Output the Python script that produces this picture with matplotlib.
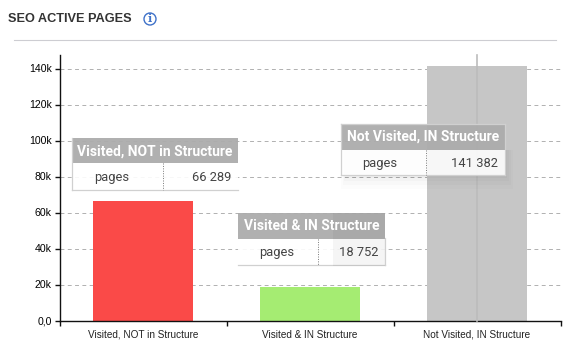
import matplotlib.pyplot as plt
from matplotlib.patches import Rectangle, Circle
from matplotlib.lines import Line2D
from matplotlib.transforms import IdentityTransform

categories = ['Visited, NOT in Structure', 'Visited & IN Structure', 'Not Visited, IN Structure']
pages = [66289, 18752, 141382]
value_labels = ['66 289', '18 752', '141 382']
colors = ['#fa4a48', '#a5ec72', '#c6c6c6']
yticks = [0, 20000, 40000, 60000, 80000, 100000, 120000, 140000]
yticklabels = ['0,0', '20k', '40k', '60k', '80k', '100k', '120k', '140k']

W, H = 568, 357
plt.rcParams['font.family'] = ['Roboto', 'DejaVu Sans']

fig = plt.figure(figsize=(W / 100, H / 100), dpi=100)

# axes box in pixels: left, right, top, bottom
L, R, T, B = 59.5, 560.5, 55, 320.5
ax = fig.add_axes([L / W, 1 - B / H, (R - L) / W, (B - T) / H])

ax.bar(range(3), pages, width=0.6, color=colors, zorder=2)
ax.set_xlim(-0.5, 2.5)
ax.set_ylim(0, (B - T) / 36 * 20000)
ax.set_yticks(yticks)
ax.set_yticklabels(yticklabels, fontsize=7.6, family=['Liberation Sans'])
ax.set_xticks([-0.5, 0.5, 1.5, 2.5])
ax.set_xticklabels([])
ax.set_xticks(range(3), minor=True)
ax.set_xticklabels(categories, minor=True, fontsize=7.2, family=['Liberation Sans'], color='#222222')
ax.tick_params(axis='x', which='minor', length=0, pad=6.5)
ax.tick_params(axis='x', which='major', length=3.6, width=1, color='#111111')
ax.tick_params(axis='y', length=3.6, width=1, color='#111111', pad=2)
ax.grid(axis='y', color='#b0b0b0', linestyle=(0, (4, 3.5)), linewidth=0.7, zorder=1)
ax.set_axisbelow(True)
for s in ['top', 'right']:
    ax.spines[s].set_visible(False)
for s in ['left', 'bottom']:
    ax.spines[s].set_linewidth(1)
    ax.spines[s].set_color('#111111')

# thin line through the grey bar
ax.axvline(2, color='#bcbcbc', linewidth=1.2, zorder=3, clip_on=False)


def fx(px):
    return px / W


def fy(py):
    return 1 - py / H


def box(x0, y0, x1, y1, **kw):
    r = Rectangle((fx(x0), fy(y1)), fx(x1 - x0), (y1 - y0) / H, transform=fig.transFigure, **kw)
    fig.add_artist(r)
    return r


def edge(x0, y0, x1, y1):
    fig.add_artist(Line2D([fx(x0), fx(x1)], [fy(y0), fy(y1)], color='#d0d0d0', linewidth=0.9, zorder=7))


def tooltip(x0, x1, top, mid, bot, div, label_x, title, label, value, shadow=False):
    # soft shadow, only the third box has a visible one
    if shadow:
        for g, a in [(14, 0.01), (10, 0.014), (6, 0.018), (3, 0.022)]:
            box(x0 + 6 - g * 0.4, mid, x1 + g * 0.6, bot + g, facecolor='black', edgecolor='none', alpha=a, zorder=5)
    box(x0, mid, x1, bot, facecolor='white', edgecolor='none', alpha=0.9, zorder=6)
    box(x0, top, x1, mid, facecolor='#acacac', edgecolor='none', alpha=0.95, zorder=6)
    edge(x0, bot, x1, bot)
    fig.add_artist(Line2D([fx(div), fx(div)], [fy(mid), fy(bot)], color='#777777', linewidth=0.7,
                          linestyle=(0, (1, 1.5)), zorder=7))
    fig.text(fx((x0 + x1) / 2), fy((top + mid) / 2 + 0.5), title, color='white', fontsize=10, fontweight='bold',
             ha='center', va='center', zorder=8)
    fig.text(fx(label_x), fy((mid + bot) / 2 + 0.8), label, color='#444444', fontsize=9.3,
             ha='center', va='center', zorder=8)
    fig.text(fx(x1 - 7), fy((mid + bot) / 2 + 0.8), value, color='#444444', fontsize=9.3,
             ha='right', va='center', zorder=8)


tooltip(72, 238, 138, 163.5, 190, 162.5, 111.5, categories[0], 'pages', value_labels[0])
edge(72, 138, 72, 190)
tooltip(238, 385, 213, 238.5, 265, 317.5, 277, categories[1], 'pages', value_labels[1])
edge(385, 238, 385, 265)
tooltip(340.5, 505, 123.5, 149.5, 175, 425.5, 380, categories[2], 'pages', value_labels[2], shadow=True)
edge(340.5, 123.5, 340.5, 175)
edge(505, 123.5, 505, 175)
edge(340.5, 123.5, 505, 123.5)

# darker patch on the right of the middle tooltip
box(333, 213, 385, 266, facecolor='black', edgecolor='none', alpha=0.04, zorder=7)

# heading
fig.text(fx(8.5), fy(19), 'SEO ACTIVE PAGES', fontsize=9.2, fontweight='bold', color='#333333',
         ha='left', va='center', family=['Liberation Sans'])
fig.add_artist(Line2D([fx(14), fx(556)], [fy(39.5), fy(39.5)], color='#cdcdd2', linewidth=0.8))
fig.add_artist(Circle((150, H - 19), 6, transform=IdentityTransform(), facecolor='white',
                      edgecolor='#3f72c9', linewidth=1))
fig.text(fx(150), fy(19), 'i', fontsize=8, fontweight='bold', color='#3f72c9', ha='center', va='center',
         family=['DejaVu Serif'])

plt.savefig('out.png', dpi=100)
